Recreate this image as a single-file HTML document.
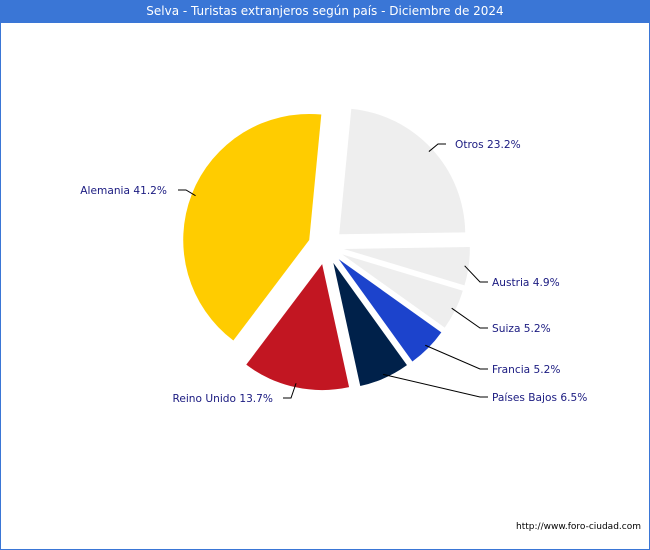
<!DOCTYPE html>
<html><head><meta charset="utf-8"><style>
body{margin:0;width:650px;height:550px;background:#fff;font-family:"DejaVu Sans","Liberation Sans",sans-serif;overflow:hidden}
#frame{position:absolute;left:0;top:0;width:648px;height:548px;border:1px solid #3a76d6}
#title{position:absolute;left:0;top:0;width:650px;height:23px;background:#3a76d6;color:#fff;font-size:12px;text-align:center;line-height:23px}
#url{position:absolute;right:9px;top:522px;font-size:9px;color:#000}
</style></head><body>
<div id="frame"></div>
<div id="title">Selva - Turistas extranjeros según país - Diciembre de 2024</div>
<svg id="pie" width="650" height="550" style="position:absolute;left:0;top:0"></svg>
<div id="url">http://www.foro-ciudad.com</div>
<script>
const labels=["Otros","Austria","Suiza","Francia","Países Bajos","Reino Unido","Alemania"];
const values=[23.2,4.9,5.2,5.2,6.5,13.7,41.2];
const colors=["#eeeeee","#eeeeee","#eeeeee","#1c43cc","#00214a","#c21622","#ffcc00"];
const labelPos=[[455,144,"start",446,144],[492,282,"start",488,282],[492,328,"start",488,328],[492,369,"start",488,369],[492,397,"start",488,397],[273,398,"end",283,398],[167,190,"end",178,190]];
const svg=document.getElementById('pie');
const NS="http://www.w3.org/2000/svg";
const cx=326,cy=246.5,R=126,off=18,start=5.5;
const total=values.reduce((a,b)=>a+b,0);
function pt(a,r,ox,oy){const t=a*Math.PI/180;return [ox+r*Math.sin(t),oy-r*Math.cos(t)];}
let a=start;
values.forEach((v,i)=>{
  const sw=v/total*360,a0=a,a1=a+sw,mid=(a0+a1)/2;a=a1;
  const [ox,oy]=pt(mid,off,cx,cy);
  const p0=pt(a0,R,ox,oy),p1=pt(a1,R,ox,oy);
  const path=document.createElementNS(NS,'path');
  path.setAttribute('d',`M${ox},${oy}L${p0[0]},${p0[1]}A${R},${R} 0 ${sw>180?1:0} 1 ${p1[0]},${p1[1]}Z`);
  path.setAttribute('fill',colors[i]);
  
  
  svg.appendChild(path);
  const lp=labelPos[i];
  const e=pt(mid,R-4,ox,oy);
  const line=document.createElementNS(NS,'polyline');
  const kx=lp[2]==="start"?lp[3]-8:lp[3]+8;
  line.setAttribute('points',`${e[0]},${e[1]} ${kx},${lp[4]} ${lp[3]},${lp[4]}`);
  line.setAttribute('fill','none');line.setAttribute('stroke','#000');line.setAttribute('stroke-width','1');
  
  
  svg.appendChild(line);
  const t=document.createElementNS(NS,'text');
  t.setAttribute('x',lp[0]);t.setAttribute('y',lp[1]+4);t.setAttribute('text-anchor',lp[2]);
  t.setAttribute('font-size','10.6');t.setAttribute('fill','#1a1a80');
  t.setAttribute('font-family','"DejaVu Sans","Liberation Sans",sans-serif');
  t.textContent=labels[i]+' '+values[i].toFixed(1)+'%';
  
  
  svg.appendChild(t);
});
</script>
</body></html>
